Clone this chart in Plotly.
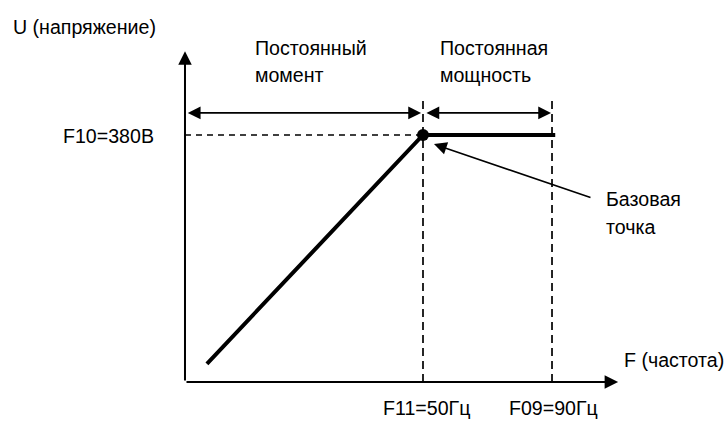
import plotly.graph_objects as go

# ---- data ----
curve_freq = [-17, 50, 91]          # Hz (schematic), start of ramp, base point, end of flat part
curve_volt = [28, 380, 380]         # V
base_freq = [50]
base_volt = [380]
tick_freqs = [50, 90]
tick_labels = ["F11=50Гц", "F09=90Гц"]
volt_level = [380]
volt_label = ["F10=380В"]

W, H = 726, 421
FONT = "Liberation Sans"
FS = 19.6

# axis ranges chosen so the schematic fills the canvas
X_RANGE = [-81.16, 143.95]
Y_RANGE = [-60.0, 587.7]
X_ORIGIN, Y_ORIGIN = -23.8, 0
X_TIP, Y_TIP = 110.5, 509
DASH_TOP = 437
SPAN_Y = 414

def px(x):
    return x / W

def py(y):
    return 1 - y / H

fig = go.Figure()

# dashed guide lines
fig.add_trace(go.Scatter(x=[X_ORIGIN, tick_freqs[0]], y=[volt_level[0]] * 2, mode="lines",
                         line=dict(color="black", width=1.7, dash="6px,5px"), hoverinfo="skip"))
for f in tick_freqs:
    fig.add_trace(go.Scatter(x=[f, f], y=[Y_ORIGIN, DASH_TOP], mode="lines",
                             line=dict(color="black", width=1.7, dash="8px,5px"), hoverinfo="skip"))

# characteristic
fig.add_trace(go.Scatter(x=curve_freq, y=curve_volt, mode="lines",
                         line=dict(color="black", width=4), hoverinfo="skip"))
fig.add_trace(go.Scatter(x=base_freq, y=base_volt, mode="markers",
                         marker=dict(color="black", size=12), hoverinfo="skip"))

annotations = []
# axes with arrows
annotations.append(dict(x=X_TIP, y=Y_ORIGIN, ax=X_ORIGIN, ay=Y_ORIGIN, xref="x", yref="y",
                        axref="x", ayref="y", text="", showarrow=True, arrowhead=2,
                        arrowsize=1.35, arrowwidth=2, arrowcolor="black"))
annotations.append(dict(x=X_ORIGIN, y=Y_TIP, ax=X_ORIGIN, ay=Y_ORIGIN, xref="x", yref="y",
                        axref="x", ayref="y", text="", showarrow=True, arrowhead=2,
                        arrowsize=1.35, arrowwidth=2, arrowcolor="black"))
# region span arrows
annotations.append(dict(x=tick_freqs[0] - 0.6, y=SPAN_Y, ax=X_ORIGIN + 0.4, ay=SPAN_Y, xref="x", yref="y",
                        axref="x", ayref="y", text="", showarrow=True, arrowhead=2, startarrowhead=2,
                        arrowside="end+start", arrowsize=1.6, startarrowsize=1.6, arrowwidth=1.6,
                        arrowcolor="black"))
annotations.append(dict(x=tick_freqs[1] - 0.3, y=SPAN_Y, ax=tick_freqs[0] + 0.6, ay=SPAN_Y, xref="x", yref="y",
                        axref="x", ayref="y", text="", showarrow=True, arrowhead=2, startarrowhead=2,
                        arrowside="end+start", arrowsize=1.6, startarrowsize=1.6, arrowwidth=1.6,
                        arrowcolor="black"))
# pointer to base point
annotations.append(dict(x=53.4, y=366, ax=102.4, ay=283, xref="x", yref="y",
                        axref="x", ayref="y", text="", showarrow=True, arrowhead=2,
                        arrowsize=1.6, arrowwidth=1.6, arrowcolor="black"))

def label(text, x, y, xanchor="left"):
    annotations.append(dict(text=text, x=px(x), y=py(y), xref="paper", yref="paper",
                            xanchor=xanchor, yanchor="middle", showarrow=False,
                            font=dict(family=FONT, size=FS, color="black")))

label("U (напряжение)", 11, 27)
label("Постоянный", 253, 48)
label("момент", 253, 75)
label("Постоянная", 438, 48)
label("мощность", 438, 75)
label("F (частота)", 622, 360)
label("Базовая", 604, 199)
label("точка", 604, 227)
label(volt_label[0], 156, 136, "right")
for f, t, cx in zip(tick_freqs, tick_labels, [426, 553]):
    label(t, cx, 408, "center")

fig.update_layout(
    width=W, height=H, margin=dict(l=0, r=0, t=0, b=0),
    paper_bgcolor="white", plot_bgcolor="white", showlegend=False,
    xaxis=dict(range=X_RANGE, visible=False, fixedrange=True),
    yaxis=dict(range=Y_RANGE, visible=False, fixedrange=True),
    annotations=annotations,
)

fig.write_html("out.html", config={"displayModeBar": False},
               post_script="document.body.style.margin='0';document.body.style.overflow='hidden';")
